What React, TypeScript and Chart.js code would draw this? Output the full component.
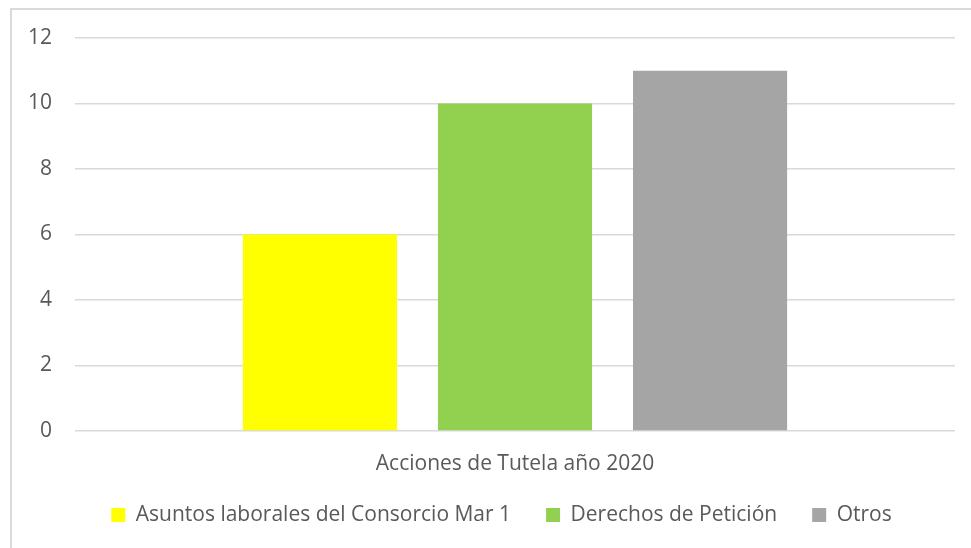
import React, { useEffect, useRef } from "react";
import { Chart, registerables } from "chart.js";

Chart.register(...registerables);

const categories: string[] = ["Acciones de Tutela año 2020"];
const seriesNames: string[] = [
  "Asuntos laborales del Consorcio Mar 1",
  "Derechos de Petición",
  "Otros",
];
const asuntosValues: number[] = [6];
const derechosValues: number[] = [10];
const otrosValues: number[] = [11];
const seriesColors: string[] = ["#FFFF00", "#92D050", "#A5A5A5"];
const yTicks: number[] = [0, 2, 4, 6, 8, 10, 12];

const FONT = "'Open Sans', 'DejaVu Sans', sans-serif";
const TEXT = "#595959";
const FONT_SIZE = 21;
const LEGEND_GAP = 35;

const legendPlacer = {
  id: "legendPlacer",
  afterLayout(chart: any) {
    const lg = chart.legend;
    if (!lg) return;
    // legend row centre at y = 505 (canvas px); row shifted right to match reference
    lg.top = 505 - LEGEND_GAP - FONT_SIZE / 2;
    lg.bottom = chart.height;
    lg.height = lg.bottom - lg.top;
    lg.left = lg.left + 36;
    lg.width = lg.right - lg.left;
  },
};

export default function App() {
  const ref = useRef<HTMLCanvasElement | null>(null);

  useEffect(() => {
    if (!ref.current) return;
    const values = [asuntosValues, derechosValues, otrosValues];
    const chart = new Chart(ref.current, {
      type: "bar",
      data: {
        labels: categories,
        datasets: seriesNames.map((name, i) => ({
          label: name,
          data: values[i],
          backgroundColor: seriesColors[i],
          borderWidth: 0,
          barPercentage: 0.79,
          categoryPercentage: 0.665,
        })),
      },
      options: {
        responsive: false,
        animation: false,
        events: [],
        layout: { padding: { left: 0, right: 16, top: 28, bottom: 33 } },
        plugins: {
          tooltip: { enabled: false },
          title: { display: false },
          legend: {
            position: "bottom",
            maxHeight: 40,
            labels: {
              boxWidth: 14,
              boxHeight: 14,
              padding: LEGEND_GAP,
              color: TEXT,
              font: { family: FONT, size: FONT_SIZE },
            },
          },
        },
        scales: {
          x: {
            grid: { display: false, drawTicks: false },
            border: { display: false },
            ticks: {
              color: TEXT,
              padding: 20,
              font: { family: FONT, size: FONT_SIZE },
            },
            afterFit: (s: any) => {
              s.height = 44;
            },
          },
          y: {
            min: yTicks[0],
            max: yTicks[yTicks.length - 1],
            grid: { color: "#d9d9d9", lineWidth: 1.5, drawTicks: false },
            border: { display: false },
            afterBuildTicks: (s: any) => {
              s.ticks = yTicks.map((v) => ({ value: v }));
            },
            ticks: {
              color: TEXT,
              padding: 23,
              font: { family: FONT, size: FONT_SIZE },
            },
            afterFit: (s: any) => {
              s.width = 63;
              s.paddingTop = 0;
              s.paddingBottom = 0;
            },
          },
        },
      },
      plugins: [legendPlacer],
    });
    return () => chart.destroy();
  }, []);

  return (
    <div
      style={{
        position: "fixed",
        left: 10,
        top: 8,
        width: 961,
        height: 540,
        boxSizing: "border-box",
        borderLeft: "2px solid #d9d9d9",
        borderTop: "2px solid #d9d9d9",
        background: "#fff",
        overflow: "hidden",
      }}
    >
      <canvas ref={ref} width={959} height={538} style={{ display: "block", width: 959, height: 538 }} />
    </div>
  );
}
